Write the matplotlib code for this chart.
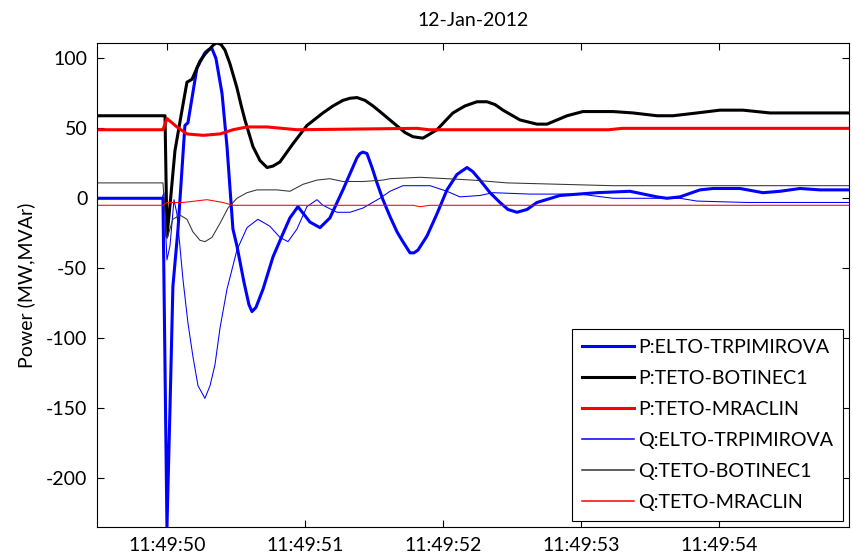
import matplotlib
matplotlib.use("Agg")
import matplotlib.pyplot as plt

# Power flows around 11:49:50 on 12-Jan-2012
# time = seconds after 11:49:50

plt.rcParams['font.family'] = ['Lato', 'DejaVu Sans']
plt.rcParams['axes.unicode_minus'] = False

title = "12-Jan-2012"
ylabel = "Power (MW,MVAr)"
xtick_pos = [0, 1, 2, 3, 4]
xtick_labels = ["11:49:50", "11:49:51", "11:49:52", "11:49:53", "11:49:54"]
ytick_pos = [-200, -150, -100, -50, 0, 50, 100]

# P:ELTO-TRPIMIROVA
t_p_elto = [-0.507, -0.029, 0.0, 0.022, 0.043, 0.080, 0.130, 0.152, 0.217, 0.275,
            0.297, 0.326, 0.355, 0.399, 0.435, 0.478, 0.507, 0.558, 0.594, 0.616,
            0.645, 0.696, 0.768, 0.833, 0.891, 0.949, 1.036, 1.109, 1.181, 1.275,
            1.377, 1.399, 1.420, 1.449, 1.486, 1.522, 1.565, 1.616, 1.667, 1.703,
            1.761, 1.790, 1.819, 1.884, 1.957, 2.029, 2.101, 2.174, 2.217, 2.268,
            2.341, 2.413, 2.471, 2.536, 2.609, 2.681, 2.848, 3.116, 3.355, 3.551,
            3.623, 3.717, 3.862, 3.957, 4.152, 4.319, 4.442, 4.587, 4.732, 4.942]
p_elto = [0, 0, -235, -150, -63, -22, 52, 54, 93, 104,
          106, 107, 100, 75, 37, -22, -34, -60, -76, -81,
          -78, -65, -42, -27, -14, -6, -17, -21, -14, 6,
          29, 32, 33, 32, 22, 11, -1, -13, -24, -30,
          -39, -39, -37, -27, -11, 6, 17, 22, 19, 13,
          4, -3, -8, -10, -8, -3, 2, 4, 5, 1,
          0, 1, 6, 7, 7, 4, 5, 7, 6, 6]

# P:TETO-BOTINEC1
t_p_botinec = [-0.507, -0.014, 0.0, 0.022, 0.058, 0.109, 0.145, 0.181, 0.239, 0.275,
               0.312, 0.341, 0.362, 0.391, 0.420, 0.457, 0.507, 0.536, 0.565, 0.623,
               0.674, 0.725, 0.768, 0.819, 0.913, 1.014, 1.130, 1.203, 1.275, 1.326,
               1.377, 1.435, 1.493, 1.543, 1.652, 1.725, 1.783, 1.855, 1.957, 2.014,
               2.072, 2.159, 2.246, 2.319, 2.377, 2.435, 2.558, 2.681, 2.754, 2.899,
               3.014, 3.232, 3.377, 3.551, 3.667, 3.841, 4.007, 4.174, 4.370, 4.609,
               4.942]
p_botinec = [59, 59, -27, -5, 34, 63, 83, 85, 98, 103,
             107, 110, 111, 110, 106, 96, 79, 67, 56, 37,
             27, 22, 23, 26, 39, 52, 61, 66, 70, 71.5,
             72, 70, 66, 62, 53, 47, 44, 43, 49, 55,
             61, 66, 69, 69, 67, 63, 56, 53, 53, 59,
             62, 62, 61, 59, 59, 61, 63, 63, 61, 61,
             61]

# P:TETO-MRACLIN
t_p_mraclin = [-0.507, -0.029, 0.0, 0.072, 0.145, 0.261, 0.384, 0.478, 0.580, 0.725,
               0.942, 1.812, 1.900, 3.200, 3.300, 4.442, 4.942]
p_mraclin = [49, 49, 57, 51, 46, 45, 46, 49, 51, 51,
             49, 50, 49, 49, 50, 50, 50]

# Q:ELTO-TRPIMIROVA
t_q_elto = [-0.507, -0.036, -0.022, 0.0, 0.022, 0.051, 0.072, 0.116, 0.152, 0.188,
            0.225, 0.275, 0.312, 0.348, 0.384, 0.435, 0.507, 0.580, 0.659, 0.746,
            0.819, 0.877, 0.942, 1.014, 1.087, 1.130, 1.232, 1.326, 1.420, 1.543,
            1.616, 1.710, 1.906, 2.029, 2.123, 2.268, 2.362, 2.630, 2.993, 3.232,
            3.717, 3.841, 4.203, 4.942]
q_elto = [0, 0, 4, -44, -34, -1, -11, -58, -89, -113,
          -134, -143, -134, -119, -93, -65, -37, -21, -15, -20,
          -28, -31, -22, -6, -1, -5, -10, -10, -7, 0,
          5, 9, 9, 5, 1, 2, 4, 3, 3, 0,
          0, -2, -3, -3]

# Q:TETO-BOTINEC1
t_q_botinec = [-0.507, -0.029, 0.0, 0.043, 0.094, 0.145, 0.188, 0.239, 0.275, 0.326,
               0.384, 0.442, 0.507, 0.580, 0.652, 0.725, 0.797, 0.891, 0.986, 1.087,
               1.181, 1.275, 1.420, 1.565, 1.616, 1.833, 2.029, 2.217, 2.464, 3.232,
               4.942]
q_botinec = [11, 11, -29, -15, -12, -15, -24, -30, -31, -28,
             -18, -7, 0, 4, 6, 6, 6, 5, 10, 13,
             14, 12, 12, 13, 14, 15, 14, 13, 11, 9,
             9]

# Q:TETO-MRACLIN
t_q_mraclin = [-0.507, -0.029, 0.0, 0.116, 0.290, 0.406, 0.478, 1.783, 1.833, 1.906,
               4.942]
q_mraclin = [-5, -5, -3, -3, -1, -3, -5, -5, -6, -5,
             -5]

fig = plt.figure(figsize=(8.53, 5.6), dpi=100)
ax = fig.add_axes([0.1137, 0.0589, 0.8816, 0.8643])

ax.plot(t_p_elto, p_elto, color='#0000ff', lw=2.2, label='P:ELTO-TRPIMIROVA')
ax.plot(t_p_botinec, p_botinec, color='black', lw=2.2, label='P:TETO-BOTINEC1')
ax.plot(t_p_mraclin, p_mraclin, color='#ff0000', lw=2.2, label='P:TETO-MRACLIN')
ax.plot(t_q_elto, q_elto, color='#0000ff', lw=0.75, label='Q:ELTO-TRPIMIROVA')
ax.plot(t_q_botinec, q_botinec, color='#333333', lw=0.75, label='Q:TETO-BOTINEC1')
ax.plot(t_q_mraclin, q_mraclin, color='#ff0000', lw=0.75, label='Q:TETO-MRACLIN')

ax.set_xlim(-0.507, 4.942)
ax.set_ylim(-235, 111)
ax.set_xticks(xtick_pos)
ax.set_xticklabels(xtick_labels)
ax.set_yticks(ytick_pos)

ax.tick_params(direction='in', top=True, right=True, length=5, width=0.8,
               labelsize=14, pad=7)
for s in ax.spines.values():
    s.set_linewidth(0.8)

ax.set_title(title, fontsize=14, pad=12)
ax.set_ylabel(ylabel, fontsize=14, labelpad=8)

leg = ax.legend(loc='lower right', fontsize=14.1, fancybox=False, framealpha=1,
                edgecolor='black', borderaxespad=0.3, handlelength=2.7,
                handletextpad=0.2, labelspacing=0.72, borderpad=0.5)
leg.get_frame().set_linewidth(0.8)
# thin handles a bit heavier so their colour shows
for h in leg.get_lines()[3:]:
    h.set_linewidth(1.1)

fig.savefig('out.png', dpi=100)
